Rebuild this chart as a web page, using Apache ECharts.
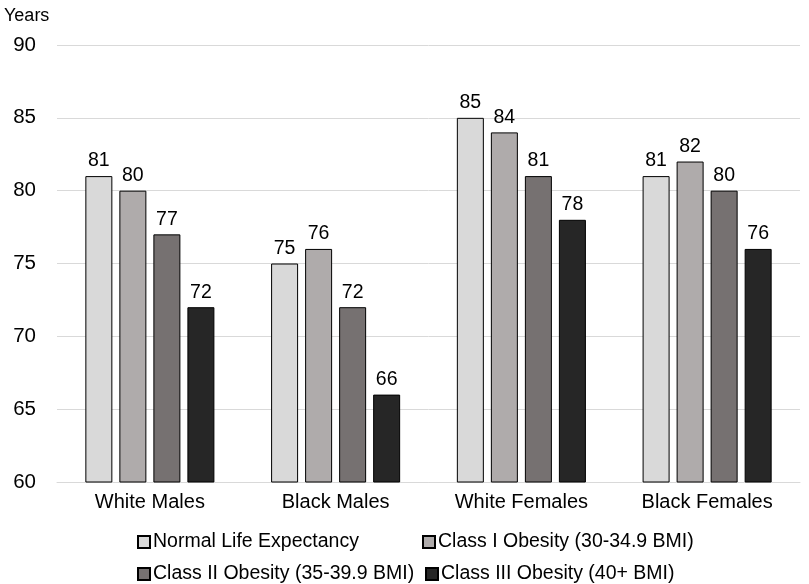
<!DOCTYPE html>
<html><head><meta charset="utf-8">
<script src="https://cdn.jsdelivr.net/npm/echarts@6/dist/echarts.min.js"></script>
<style>html,body{margin:0;padding:0;background:#fff}#c{width:809px;height:584px}</style>
</head><body><div id="c"></div>
<script>
const categories = ['White Males', 'Black Males', 'White Females', 'Black Females'];
const seriesNames = ['Normal Life Expectancy', 'Class I Obesity (30-34.9 BMI)', 'Class II Obesity (35-39.9 BMI)', 'Class III Obesity (40+ BMI)'];
const normal = [81, 75, 85, 81];
const class1 = [80, 76, 84, 82];
const class2 = [77, 72, 81, 80];
const class3 = [72, 66, 78, 76];
const colors = ['#d9d9d9', '#afabab', '#767171', '#262626'];
const values = [normal, class1, class2, class3];
const font = 'Liberation Sans, Arial, sans-serif';

const chart = echarts.init(document.getElementById('c'));
const legendPos = [[137, 532], [422, 532], [137, 564], [425, 564]];
chart.setOption({
  animation: false,
  textStyle: { fontFamily: font },
  grid: { left: 57, right: 9, top: 45, bottom: 102 },
  graphic: [{ type: 'text', left: 4, top: 7, style: { text: 'Years', fontSize: 18, fontFamily: font, fill: '#000' } }],
  legend: seriesNames.map((n, i) => ({
    data: [n], left: legendPos[i][0], top: legendPos[i][1], padding: 0,
    itemWidth: 12, itemHeight: 12, icon: 'rect',
    textStyle: { fontSize: 19.5, color: '#000', fontFamily: font, padding: [0, 0, 0, -2] }
  })),
  xAxis: {
    type: 'category', data: categories,
    axisLine: { lineStyle: { color: '#d9d9d9', width: 1 } },
    axisTick: { show: false },
    axisLabel: { color: '#000', fontSize: 20, margin: 10 }
  },
  yAxis: {
    type: 'value', min: 60, max: 90, interval: 5,
    axisLine: { show: false }, axisTick: { show: false },
    axisLabel: { color: '#000', fontSize: 20.5, margin: 21 },
    splitLine: { lineStyle: { color: '#d9d9d9', width: 1 } }
  },
  series: seriesNames.map((n, i) => ({
    name: n, type: 'bar', data: values[i],
    barWidth: 27, barGap: '26%', barCategoryGap: '30%',
    itemStyle: { color: colors[i], borderColor: '#000', borderWidth: 1 },
    label: { show: true, position: 'top', color: '#000', fontSize: 19.5, distance: 5 }
  }))
});
</script></body></html>
